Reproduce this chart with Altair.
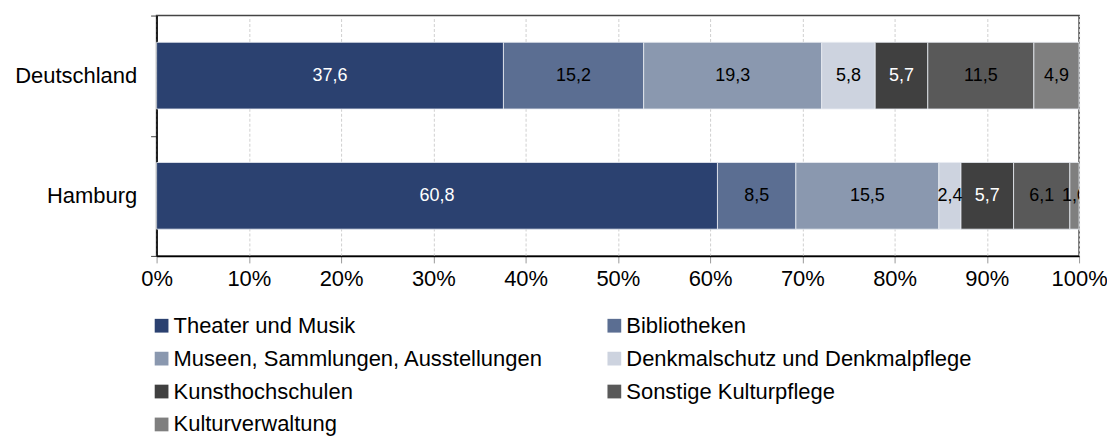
import altair as alt
import pandas as pd

regions = ["Deutschland", "Hamburg"]
categories = [
    "Theater und Musik",
    "Bibliotheken",
    "Museen, Sammlungen, Ausstellungen",
    "Denkmalschutz und Denkmalpflege",
    "Kunsthochschulen",
    "Sonstige Kulturpflege",
    "Kulturverwaltung",
]
deutschland = [37.6, 15.2, 19.3, 5.8, 5.7, 11.5, 4.9]
hamburg = [60.8, 8.5, 15.5, 2.4, 5.7, 6.1, 1.0]
colors = ["#2B4170", "#5B6E92", "#8A98AF", "#CDD3DF", "#404040", "#595959", "#7F7F7F"]
text_colors = ["white", "black", "black", "black", "white", "black", "black"]

rows = []
for reg, vals in zip(regions, [deutschland, hamburg]):
    for i, (c, v) in enumerate(zip(categories, vals)):
        rows.append({"Region": reg, "Kategorie": c, "Wert": v, "ord": i, "tc": text_colors[i]})
df = pd.DataFrame(rows)

FONT = "Liberation Sans"

base = alt.Chart(df)

bars = base.mark_bar(stroke="#E8ECF2", strokeWidth=0.8, height=alt.RelativeBandSize(0.555)).encode(
    y=alt.Y("Region:N", sort=regions, title=None,
            scale=alt.Scale(paddingInner=0, paddingOuter=0),
            axis=alt.Axis(tickBand="extent", labelFontSize=22, labelFont=FONT,
                          labelColor="#000000", labelPadding=14, tickSize=6,
                          tickColor="#444444", domainColor="#000000", domainWidth=1.5,
                          grid=False)),
    x=alt.X("Wert:Q", stack="zero", title=None,
            scale=alt.Scale(domain=[0, 100], nice=False),
            axis=alt.Axis(values=list(range(0, 101, 10)), labelExpr="datum.value + '%'",
                          labelFlush=False, labelOverlap=False,
                          labelFontSize=22, labelFont=FONT, labelColor="#000000",
                          labelPadding=6, tickSize=7, tickColor="#999999",
                          domainColor="#000000", domainWidth=1.5,
                          grid=True, gridColor="#D0D0D0", gridDash=[3, 2], gridWidth=1)),
    color=alt.Color("Kategorie:N", sort=categories,
                    scale=alt.Scale(domain=categories, range=colors),
                    legend=alt.Legend(title=None, orient="none", legendX=-6, legendY=300,
                                      columns=2, columnPadding=60, rowPadding=11,
                                      symbolType="square", symbolSize=190, symbolStrokeWidth=0,
                                      labelFontSize=22, labelFont=FONT, labelColor="#000000",
                                      labelLimit=0, labelOffset=1, direction="horizontal")),
    order=alt.Order("ord:Q"),
)

labels = base.transform_window(
    cum="sum(Wert)", groupby=["Region"], sort=[alt.SortField("ord")]
).transform_calculate(
    mid="datum.cum - datum.Wert / 2",
    lab="replace(format(datum.Wert, '.1f'), '.', ',')",
).mark_text(fontSize=18, font=FONT, clip=True).encode(
    y=alt.Y("Region:N", sort=regions),
    x=alt.X("mid:Q"),
    text="lab:N",
    color=alt.Color("tc:N", scale=None, legend=None),
)

chart = alt.layer(bars, labels).resolve_scale(color="independent").properties(
    width=925, height=241,
    autosize=alt.AutoSizeParams(type="none"),
    padding={"left": 149, "top": 7, "right": 28, "bottom": 180},
).configure_view(stroke="#444444", strokeWidth=1.5)

chart.save("out.html", embed_options={"renderer": "svg", "actions": False})
